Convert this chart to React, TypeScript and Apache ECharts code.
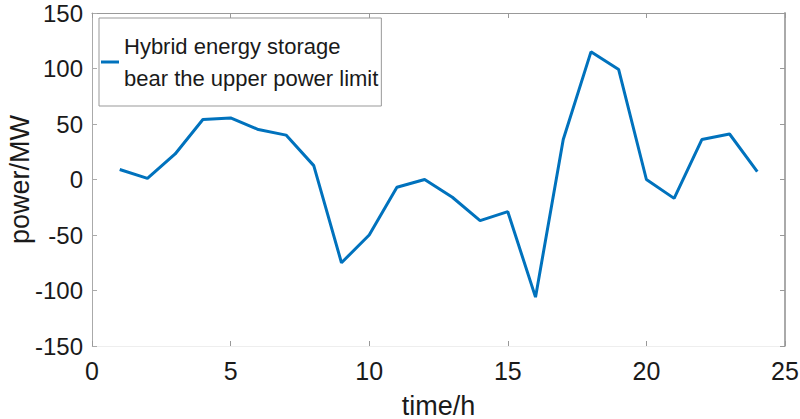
import React, { useEffect, useRef } from "react";
import * as echarts from "echarts";

const hours = [1, 2, 3, 4, 5, 6, 7, 8, 9, 10, 11, 12, 13, 14, 15, 16, 17, 18, 19, 20, 21, 22, 23, 24];
const power = [9, 1, 23, 54, 55.5, 45, 40, 12.5, -75, -50, -7, 0, -16, -37, -29, -106, 36, 115, 99, 0, -17, 36, 41, 7];
const seriesName = "Hybrid energy storage\nbear the upper power limit";
const xTicks = { min: 0, max: 25, interval: 5 };
const yTicks = { min: -150, max: 150, interval: 50 };

const FONT = "'Liberation Sans', Arial, Helvetica, sans-serif";

export default function App() {
  const ref = useRef<HTMLDivElement>(null);
  useEffect(() => {
    if (!ref.current) return;
    const chart = echarts.init(ref.current, undefined, { renderer: "svg" });
    const data = hours.map((h, i) => [h, power[i]]);
    chart.setOption({
      animation: false,
      backgroundColor: "#ffffff",
      textStyle: { fontFamily: FONT },
      grid: { left: 92, right: 15, top: 13, bottom: 73, containLabel: false, outerBoundsMode: "none" },
      legend: {
        show: true,
        left: 99,
        top: 18,
        orient: "vertical",
        borderColor: "#999999",
        borderWidth: 1,
        borderRadius: 0,
        padding: [12, 3, 12, 2],
        itemWidth: 18,
        itemHeight: 3,
        icon: "rect",
        textStyle: { fontSize: 22, lineHeight: 32, color: "#1a1a1a", fontFamily: FONT },
        data: [seriesName],
      },
      xAxis: [
        {
          type: "value",
          position: "bottom",
          ...xTicks,
          name: "time/h",
          nameLocation: "middle",
          nameGap: 46,
          nameMoveOverlap: false,
          nameTextStyle: { fontSize: 27, color: "#1a1a1a", fontFamily: FONT },
          axisLine: { show: true, onZero: false, lineStyle: { color: "#eeeeee", width: 1 } },
          axisTick: { show: true, inside: true, length: 5, lineStyle: { color: "#999999" } },
          axisLabel: { fontSize: 25, color: "#1a1a1a", margin: 12, fontFamily: FONT },
          splitLine: { show: false },
        },
        {
          type: "value",
          position: "top",
          ...xTicks,
          axisLine: { show: true, onZero: false, lineStyle: { color: "#999999", width: 1 } },
          axisTick: { show: true, inside: true, length: 5, lineStyle: { color: "#999999" } },
          axisLabel: { show: false },
          splitLine: { show: false },
        },
      ],
      yAxis: [
        {
          type: "value",
          position: "left",
          ...yTicks,
          name: "power/MW",
          nameLocation: "middle",
          nameGap: 59,
          nameMoveOverlap: false,
          nameTextStyle: { fontSize: 27, color: "#1a1a1a", fontFamily: FONT },
          axisLine: { show: true, onZero: false, lineStyle: { color: "#aaaaaa", width: 1 } },
          axisTick: { show: true, inside: true, length: 5, lineStyle: { color: "#aaaaaa" } },
          axisLabel: { fontSize: 24, lineHeight: 20, color: "#1a1a1a", margin: 9, fontFamily: FONT },
          splitLine: { show: false },
        },
        {
          type: "value",
          position: "right",
          ...yTicks,
          axisLine: { show: true, onZero: false, lineStyle: { color: "#aaaaaa", width: 2 } },
          axisTick: { show: true, inside: true, length: 5, lineStyle: { color: "#999999" } },
          axisLabel: { show: false },
          splitLine: { show: false },
        },
      ],
      series: [
        {
          name: seriesName,
          type: "line",
          xAxisIndex: 0,
          yAxisIndex: 0,
          data,
          showSymbol: false,
          symbol: "none",
          lineStyle: { color: "#0072BD", width: 3 },
          itemStyle: { color: "#0072BD" },
        },
      ],
    });
    return () => chart.dispose();
  }, []);
  return <div ref={ref} style={{ width: 800, height: 419, position: "absolute", left: 0, top: 0 }} />;
}
